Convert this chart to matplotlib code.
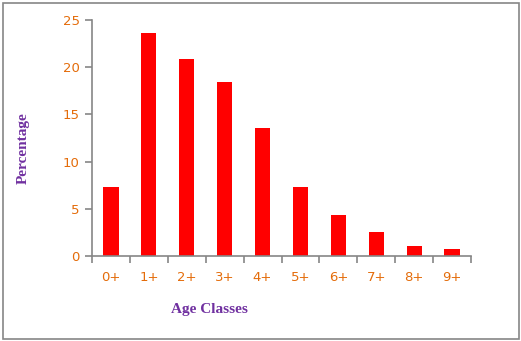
import matplotlib
matplotlib.use("Agg")
import matplotlib.pyplot as plt
from matplotlib.patches import Rectangle
import numpy as np

categories = ["0+", "1+", "2+", "3+", "4+", "5+", "6+", "7+", "8+", "9+"]
percentages = [7.3, 23.6, 20.9, 18.4, 13.6, 7.3, 4.4, 2.6, 1.1, 0.8]
yticks = [0, 5, 10, 15, 20, 25]

W, H = 521, 341
fig = plt.figure(figsize=(W / 100, H / 100), dpi=100)
ax = fig.add_axes([92 / W, 1 - 256.3 / H, (471 - 92) / W, (256.3 - 19.7) / H])

x = np.arange(len(categories))
ax.bar(x, percentages, width=0.4, color="#FF0000", zorder=2)

gray = "#868686"
orange = "#E46C0A"
purple = "#7030A0"

ax.set_xlim(-0.5, len(categories) - 0.5)
ax.set_ylim(0, 25)
for s in ["top", "right"]:
    ax.spines[s].set_visible(False)
for s in ["left", "bottom"]:
    ax.spines[s].set_color(gray)
    ax.spines[s].set_linewidth(1.2)

ax.set_yticks(yticks)
ax.set_yticklabels([str(v) for v in yticks], color=orange, fontsize=9.5)
ax.tick_params(axis="y", direction="out", length=5, width=1.2, color=gray, pad=4)

ax.set_xticks(np.arange(len(categories) + 1) - 0.5)
ax.set_xticklabels([])
ax.tick_params(axis="x", which="major", direction="out", length=5, width=1.2, color=gray)
ax.set_xticks(x, minor=True)
ax.set_xticklabels(categories, minor=True, color=orange, fontsize=9.5)
ax.tick_params(axis="x", which="minor", length=0, pad=10.5)

fig.text(209 / W, 1 - 310 / H, "Age Classes", color=purple, fontsize=11,
         family="Liberation Serif", fontweight="bold", ha="center", va="center")
fig.text(23 / W, 1 - 148 / H, "Percentage", color=purple, fontsize=11,
         family="Liberation Serif", fontweight="bold", rotation=90, ha="center", va="center")

fig.patches.append(Rectangle((2.5 / W, 2.5 / H), (518.5 - 2.5) / W, (338.5 - 2.5) / H,
                             transform=fig.transFigure, fill=False, edgecolor=gray, linewidth=1.2))

fig.savefig("out.png", dpi=100)
